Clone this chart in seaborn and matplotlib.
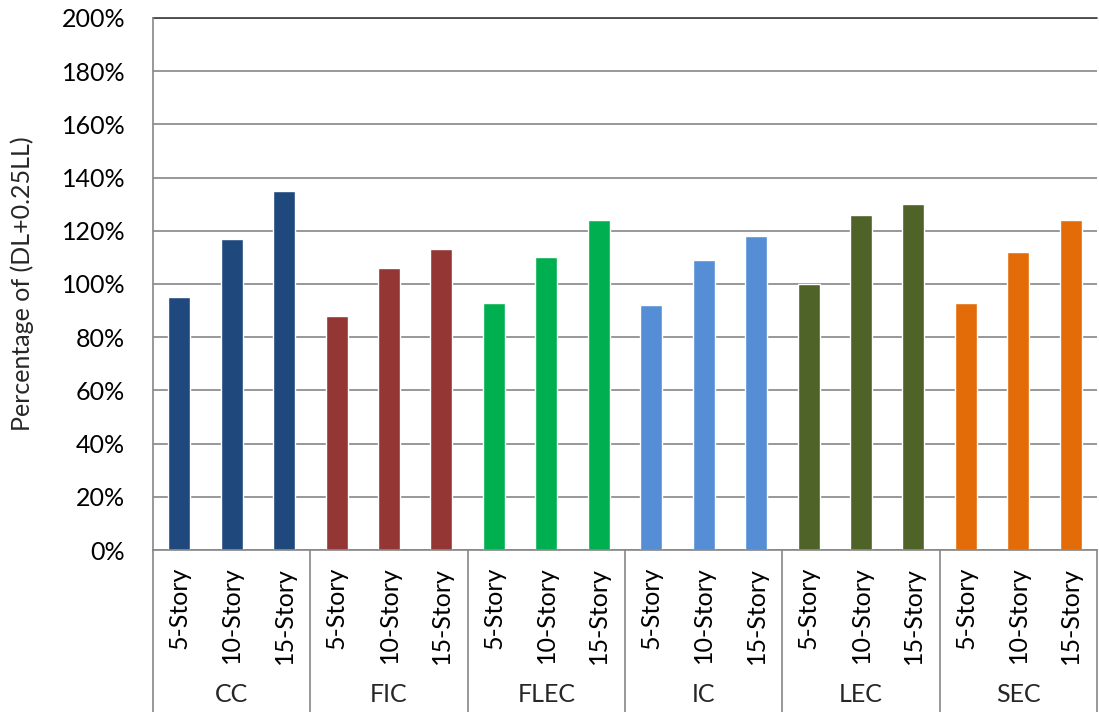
import matplotlib
matplotlib.use("Agg")
import matplotlib.pyplot as plt
import matplotlib.transforms as mtransforms
from matplotlib.ticker import PercentFormatter
import seaborn as sns
import pandas as pd

# Data: percentage of (DL+0.25LL) per system and building height
groups = ["CC", "FIC", "FLEC", "IC", "LEC", "SEC"]
stories = ["5-Story", "10-Story", "15-Story"]
cc = [95, 117, 135]
fic = [88, 106, 113]
flec = [93, 110, 124]
ic = [92, 109, 118]
lec = [100, 126, 130]
sec = [93, 112, 124]
colors = ["#1F497D", "#943634", "#00B050", "#558ED5", "#4F6228", "#E36C09"]

values = [cc, fic, flec, ic, lec, sec]
rows = []
for g, vals in zip(groups, values):
    for s, v in zip(stories, vals):
        rows.append({"slot": f"{g}|{s}", "group": g, "story": s, "value": v})
df = pd.DataFrame(rows)

sns.set_theme(style="white")
plt.rcParams["font.family"] = ["Lato", "DejaVu Sans"]

W, H = 1099, 712
fig = plt.figure(figsize=(W / 100, H / 100), dpi=100)
left, right, top, bottom = 153, 1097, 18, 550
ax = fig.add_axes([left / W, (H - bottom) / H, (right - left) / W, (bottom - top) / H])

sns.barplot(data=df, x="slot", y="value", hue="group", palette=colors,
            dodge=False, width=0.42, legend=False, ax=ax, saturation=1)

ax.set_xlim(-0.5, len(df) - 0.5)
ax.set_ylim(0, 200)
ax.set_yticks(range(0, 201, 20))
ax.yaxis.set_major_formatter(PercentFormatter(decimals=0))
ax.set_axisbelow(True)
ax.yaxis.grid(True, color="#868686", linewidth=1.2)
ax.axhline(200, color="#3a3a3a", linewidth=1.2, clip_on=False)

for side in ["top", "right"]:
    ax.spines[side].set_visible(False)
for side in ["left", "bottom"]:
    ax.spines[side].set_color("#868686")
    ax.spines[side].set_linewidth(1.2)

ax.tick_params(axis="y", length=0, pad=20, labelsize=18, colors="black")
ax.tick_params(axis="x", length=0, pad=12, labelsize=18, colors="black")
ax.set_xticks(range(len(df)))
ax.set_xticklabels(df["story"], rotation=90, va="top", ha="center")
ax.set_xlabel("")
ax.set_ylabel("Percentage of (DL+0.25LL)", fontsize=18)
ax.yaxis.set_label_coords((34 - left) / (right - left), 0.5)

# Category separators and group labels under the axis
trans = mtransforms.blended_transform_factory(ax.transData, ax.transAxes)
depth = -(H - bottom) / (bottom - top)
n = len(stories)
for i in range(len(groups) + 1):
    x = i * n - 0.5
    ax.plot([x, x], [0, depth], transform=trans, color="#868686",
            linewidth=1.2, clip_on=False)
for i, g in enumerate(groups):
    ax.text(i * n + (n - 1) / 2, -(695 - bottom) / (bottom - top), g,
            transform=trans, ha="center", va="center", fontsize=18)

fig.savefig("out.png", dpi=100, facecolor="white")
